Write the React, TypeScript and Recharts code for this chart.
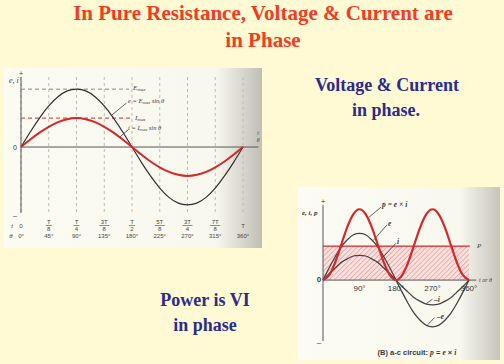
import React from "react";
import {
  ComposedChart,
  Line,
  XAxis,
  YAxis,
  CartesianGrid,
  ReferenceLine,
  ReferenceArea,
  ReferenceDot,
} from "recharts";

// angle samples, every 15 degrees over one cycle
const DEGREES = [0, 15, 30, 45, 60, 75, 90, 105, 120, 135, 150, 165, 180, 195, 210, 225, 240, 255, 270, 285, 300, 315, 330, 345, 360];

// left figure: e and i in a pure resistance (same phase)
const VOLTAGE = [0, 0.26, 0.5, 0.71, 0.87, 0.97, 1, 0.97, 0.87, 0.71, 0.5, 0.26, 0, -0.26, -0.5, -0.71, -0.87, -0.97, -1, -0.97, -0.87, -0.71, -0.5, -0.26, 0];
const CURRENT = [0, 0.13, 0.25, 0.35, 0.43, 0.48, 0.5, 0.48, 0.43, 0.35, 0.25, 0.13, 0, -0.13, -0.25, -0.35, -0.43, -0.48, -0.5, -0.48, -0.43, -0.35, -0.25, -0.13, 0];
const E_MAX = 1;
const I_MAX = 0.5;

const LEFT_TICKS = [0, 45, 90, 135, 180, 225, 270, 315, 360];
const TIME_LABELS = ["0", "T/8", "T/4", "3T/8", "T/2", "5T/8", "3T/4", "7T/8", "T"];
const DEG_LABELS = ["0°", "45°", "90°", "135°", "180°", "225°", "270°", "315°", "360°"];

// right figure: p = e x i
const POWER = [0, 0.07, 0.25, 0.5, 0.75, 0.93, 1, 0.93, 0.75, 0.5, 0.25, 0.07, 0, 0.07, 0.25, 0.5, 0.75, 0.93, 1, 0.93, 0.75, 0.5, 0.25, 0.07, 0];
const PV = [0, 0.17, 0.33, 0.47, 0.57, 0.64, 0.66, 0.64, 0.57, 0.47, 0.33, 0.17, 0, -0.17, -0.33, -0.47, -0.57, -0.64, -0.66, -0.64, -0.57, -0.47, -0.33, -0.17, 0];
const PI = [0, 0.09, 0.17, 0.25, 0.3, 0.34, 0.35, 0.34, 0.3, 0.25, 0.17, 0.09, 0, -0.09, -0.17, -0.25, -0.3, -0.34, -0.35, -0.34, -0.3, -0.25, -0.17, -0.09, 0];
const AVG_POWER = 0.48;
const RIGHT_TICKS = [90, 180, 270, 360];
const RIGHT_TICK_LABELS = ["90°", "180°", "270°", "360°"];

const leftData = DEGREES.map((deg, k) => ({ deg, e: VOLTAGE[k], i: CURRENT[k] }));
const rightData = DEGREES.map((deg, k) => ({ deg, p: POWER[k], e: PV[k], i: PI[k] }));

const RED = "#d8262a";
const INK = "#3a3a3a";
const SANS = '"Liberation Sans", Arial, sans-serif';
const SERIF = '"Liberation Serif", "Times New Roman", serif';

function Tag({ x, y, size = 7, center = false, italic = false, bold = false, font = SERIF, color = INK, children }: any) {
  return (
    <span
      style={{
        position: "absolute",
        left: x,
        top: y,
        transform: center ? "translate(-50%, -50%)" : "translateY(-50%)",
        fontSize: size,
        lineHeight: 1,
        whiteSpace: "nowrap",
        fontStyle: italic ? "italic" : "normal",
        fontWeight: bold ? 700 : 400,
        fontFamily: font,
        color,
      }}
    >
      {children}
    </span>
  );
}

const Sub = ({ children }: any) => (
  <span style={{ fontSize: "0.7em", verticalAlign: "-0.2em" }}>{children}</span>
);

function TimeTick({ x, y, payload }: any) {
  const k = LEFT_TICKS.indexOf(payload.value);
  const [num, den] = TIME_LABELS[k].split("/");
  const barHalf = num.length * 2 + 1;
  return (
    <g fontFamily={SANS} fontSize={6} fill="#444">
      {den ? (
        <>
          <text x={x} y={y + 11} textAnchor="middle">{num}</text>
          <line x1={x - barHalf} x2={x + barHalf} y1={y + 12.5} y2={y + 12.5} stroke="#444" strokeWidth={0.6} />
          <text x={x} y={y + 18} textAnchor="middle">{den}</text>
        </>
      ) : (
        <text x={x} y={y + 15} textAnchor="middle">{num}</text>
      )}
      <text x={x} y={y + 25} textAnchor="middle">{DEG_LABELS[k]}</text>
      {k === 0 && (
        <>
          <text x={x - 9} y={y + 15} textAnchor="middle" fontStyle="italic">t</text>
          <text x={x - 10} y={y + 25} textAnchor="middle" fontStyle="italic">θ</text>
        </>
      )}
    </g>
  );
}

function LeftFigure() {
  return (
    <div
      style={{
        position: "absolute",
        left: 4,
        top: 68,
        width: 258,
        height: 180,
        background: "linear-gradient(to right, #fcfbf1 0%, #f9f8ee 82%, #c0beb5 100%)",
      }}
    >
      <ComposedChart width={258} height={180} data={leftData} margin={{ top: 9, right: 19, bottom: 5, left: 17 }}>
        <CartesianGrid horizontal={false} strokeDasharray="3 3" stroke="#bdbcb4" />
        <XAxis
          type="number"
          dataKey="deg"
          domain={[0, 360]}
          ticks={LEFT_TICKS}
          axisLine={false}
          tickLine={false}
          tickSize={0}
          tickMargin={0}
          height={30}
          interval={0}
          tick={(props: any) => <TimeTick {...props} />}
        />
        <YAxis hide type="number" domain={[-1.14, 1.21]} />
        <ReferenceLine x={0} stroke="#555" strokeWidth={1} />
        <ReferenceLine segment={[{ x: 0, y: 0 }, { x: 385, y: 0 }]} ifOverflow="visible" stroke="#555" />
        <ReferenceLine segment={[{ x: 0, y: E_MAX }, { x: 175, y: E_MAX }]} stroke="#8a8a86" strokeDasharray="4 3" />
        <ReferenceLine segment={[{ x: 0, y: I_MAX }, { x: 178, y: I_MAX }]} stroke={RED} strokeDasharray="4 3" />
        <ReferenceLine segment={[{ x: 171, y: 0.76 }, { x: 147, y: 0.55 }]} stroke={INK} strokeWidth={0.8} />
        <ReferenceLine segment={[{ x: 174, y: 0.3 }, { x: 160, y: 0.17 }]} stroke={INK} strokeWidth={0.8} />
        <Line type="natural" dataKey="e" stroke="#2f2f2f" strokeWidth={1.2} dot={false} isAnimationActive={false} />
        <Line type="natural" dataKey="i" stroke={RED} strokeWidth={2} dot={false} isAnimationActive={false} />
      </ComposedChart>
      <Tag x={17} y={5} size={7} center font={SANS}>+</Tag>
      <Tag x={5} y={13} size={8} italic>e, i</Tag>
      <Tag x={11} y={79} size={7} center font={SANS}>0</Tag>
      <Tag x={11} y={147} size={7} center font={SANS}>–</Tag>
      <Tag x={129} y={21} size={7} italic>E<Sub>max</Sub></Tag>
      <Tag x={124} y={34} size={6.5} italic>e = E<Sub>max</Sub> sin θ</Tag>
      <Tag x={131} y={51} size={7} italic>I<Sub>max</Sub></Tag>
      <Tag x={124} y={61} size={6.5} italic>i = I<Sub>max</Sub> sin θ</Tag>
      <Tag x={254} y={66} size={5.5} center italic>t</Tag>
      <Tag x={254} y={73} size={5.5} center italic>θ</Tag>
    </div>
  );
}

function RightFigure() {
  return (
    <div
      style={{
        position: "absolute",
        left: 298,
        top: 187,
        width: 202,
        height: 173,
        background: "linear-gradient(to right, #fdfcf4 0%, #f9f8ef 80%, #c6c4bb 100%)",
      }}
    >
      <ComposedChart width={202} height={173} data={rightData} margin={{ top: 18, right: 31, bottom: 19, left: 25 }}>
        <defs>
          <pattern id="hatch" width={3.5} height={3.5} patternUnits="userSpaceOnUse" patternTransform="rotate(45)">
            <rect width={3.5} height={3.5} fill="#fbe2e0" />
            <line x1={0} y1={0} x2={0} y2={3.5} stroke="#e58a86" strokeWidth={1.2} />
          </pattern>
        </defs>
        <XAxis hide type="number" dataKey="deg" domain={[0, 360]} />
        <YAxis hide type="number" domain={[-0.86, 1.06]} />
        <ReferenceArea x1={0} x2={360} y1={0} y2={AVG_POWER} fill="url(#hatch)" fillOpacity={1} stroke="none" />
        <ReferenceLine segment={[{ x: 0, y: AVG_POWER }, { x: 362, y: AVG_POWER }]} ifOverflow="visible" stroke={RED} strokeWidth={1.2} />
        <ReferenceLine x={0} stroke="#555" />
        <ReferenceLine segment={[{ x: 0, y: 0 }, { x: 378, y: 0 }]} ifOverflow="visible" stroke="#555" />
        <ReferenceLine segment={[{ x: 143, y: 1.03 }, { x: 112, y: 0.88 }]} stroke={INK} strokeWidth={0.8} />
        <ReferenceLine segment={[{ x: 158, y: 0.78 }, { x: 124, y: 0.56 }]} stroke={INK} strokeWidth={0.8} />
        <ReferenceLine segment={[{ x: 180, y: 0.52 }, { x: 136, y: 0.25 }]} stroke={INK} strokeWidth={0.8} />
        <ReferenceLine segment={[{ x: 270, y: -0.27 }, { x: 255, y: -0.33 }]} stroke={INK} strokeWidth={0.8} />
        <ReferenceLine segment={[{ x: 275, y: -0.53 }, { x: 258, y: -0.63 }]} stroke={INK} strokeWidth={0.8} />
        <Line type="natural" dataKey="e" stroke="#444" strokeWidth={1.3} dot={false} isAnimationActive={false} />
        <Line type="natural" dataKey="i" stroke="#444" strokeWidth={1.3} dot={false} isAnimationActive={false} />
        <Line type="natural" dataKey="p" stroke={RED} strokeWidth={2.2} dot={false} isAnimationActive={false} />
        {RIGHT_TICKS.map((t, k) => (
          <ReferenceDot
            key={t}
            x={t}
            y={0}
            r={0}
            ifOverflow="visible"
            label={{ value: RIGHT_TICK_LABELS[k], position: "bottom", offset: 5, fontSize: 8, fill: "#333", fontFamily: SANS }}
          />
        ))}
      </ComposedChart>
      <Tag x={25} y={15} size={8} center font={SANS}>+</Tag>
      <Tag x={4} y={26} size={7} italic bold>e, i, p</Tag>
      <Tag x={21} y={93} size={8} center font={SANS} bold>0</Tag>
      <Tag x={21} y={156} size={8} center font={SANS}>–</Tag>
      <Tag x={84} y={18} size={7.5} italic bold>p = e × i</Tag>
      <Tag x={90} y={37} size={7.5} italic bold>e</Tag>
      <Tag x={99} y={55} size={7.5} italic bold>i</Tag>
      <Tag x={179} y={59} size={7} italic>P</Tag>
      <Tag x={181} y={93} size={6} italic>t or θ</Tag>
      <Tag x={136} y={113} size={7.5} italic bold>–i</Tag>
      <Tag x={139} y={130} size={7.5} italic bold>–e</Tag>
      <Tag x={119} y={166} size={7.5} center font={SANS} bold>
        (B) a-c circuit: <i style={{ fontFamily: SERIF }}>p</i> = <i style={{ fontFamily: SERIF }}>e</i> × <i style={{ fontFamily: SERIF }}>i</i>
      </Tag>
    </div>
  );
}

export default function App() {
  const line = (text: string, top: number) => (
    <div style={{ position: "absolute", left: 0, top, width: 526, textAlign: "center", fontSize: 21, lineHeight: "21px", fontWeight: 700, color: "#f43b22", fontFamily: SERIF }}>
      {text}
    </div>
  );
  const blue = (text: string, cx: number, top: number) => (
    <div style={{ position: "absolute", left: cx - 100, top, width: 200, textAlign: "center", fontSize: 18, lineHeight: "18px", fontWeight: 700, color: "#2b2b90", fontFamily: SERIF }}>
      {text}
    </div>
  );
  return (
    <div style={{ position: "absolute", left: 0, top: 0, width: 504, height: 364, overflow: "hidden", background: "#fffad3" }}>
      {line("In Pure Resistance, Voltage & Current are", 3)}
      {line("in Phase", 30)}
      <LeftFigure />
      <RightFigure />
      {blue("Voltage & Current", 387, 76)}
      {blue("in phase.", 386, 101)}
      {blue("Power is VI", 205, 291)}
      {blue("in phase", 205, 316)}
    </div>
  );
}
